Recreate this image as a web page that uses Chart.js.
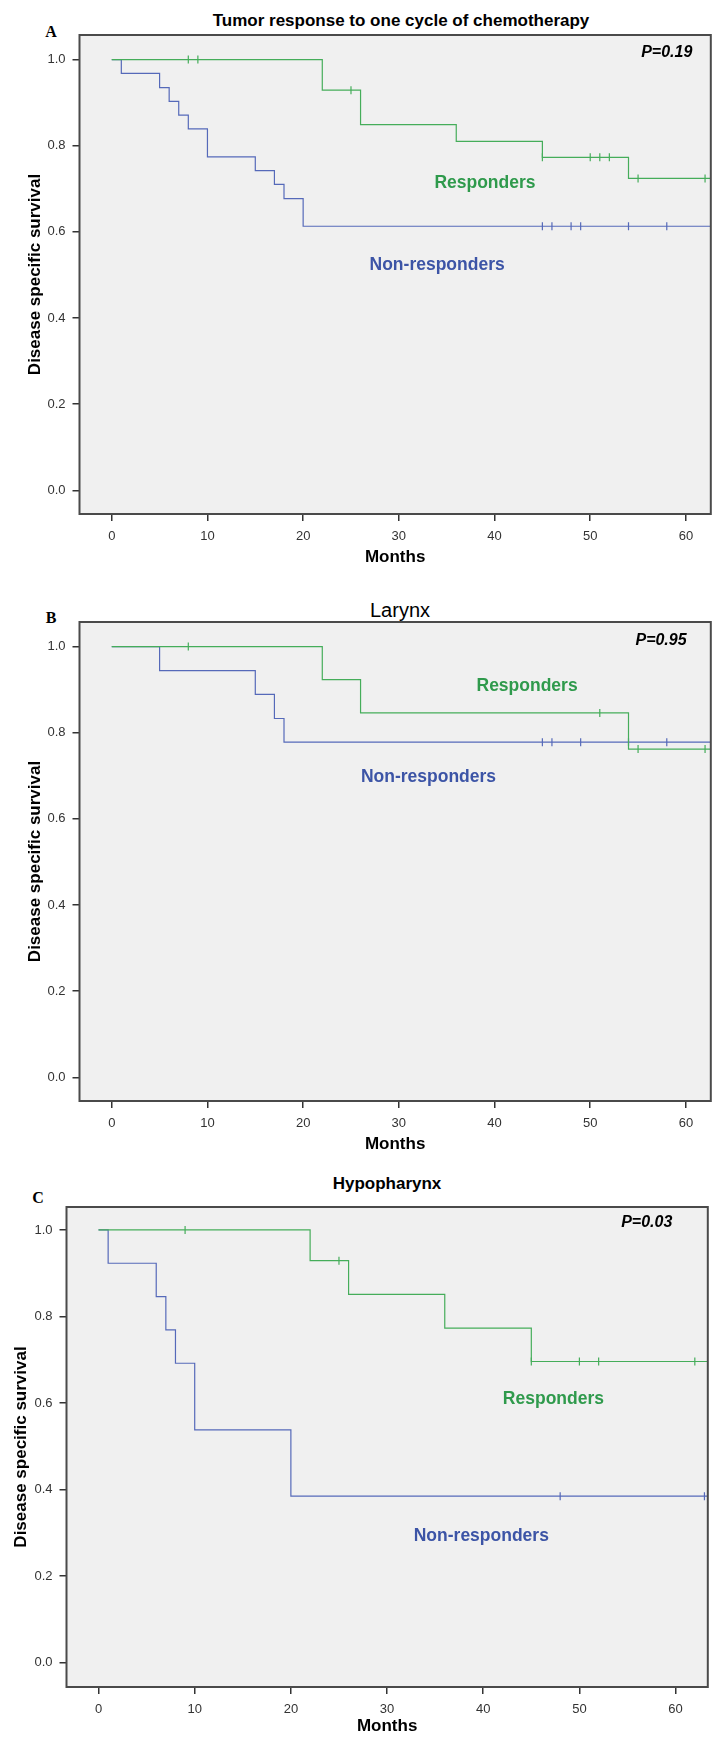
<!DOCTYPE html>
<html lang="en">
    <head>
        <script src="https://cdn.jsdelivr.net/npm/chart.js@4.4.1/dist/chart.umd.min.js"></script>
        <title>Disease specific survival</title>
        <style>
            body { margin: 0; width: 713px; height: 1738px; overflow: hidden; position: relative; background: #fff; }
            canvas { position: absolute; left: 0; }
            .txt { position: absolute; transform: translate(-50%, -50%); white-space: nowrap; line-height: 1; color: #000; }
            .ttl { font-family: 'Liberation Sans', Arial, sans-serif; }
            .let { font-family: 'Liberation Serif', 'Times New Roman', serif; font-weight: bold; font-size: 16px; }
        </style>
    </head>
    <body>
        <div class="txt ttl" style="left:401px; top:20px; font-size:17px; font-weight:bold;">Tumor response to one cycle of chemotherapy</div>
        <div class="txt let" style="left:51px; top:32px;">A</div>
        <canvas id="chartA" width="716" height="580" style="top:0px;"></canvas>

        <div class="txt ttl" style="left:400px; top:610px; font-size:20px;">Larynx</div>
        <div class="txt let" style="left:51px; top:618px;">B</div>
        <canvas id="chartB" width="716" height="580" style="top:587px;"></canvas>

        <div class="txt ttl" style="left:387px; top:1183px; font-size:17px; font-weight:bold;">Hypopharynx</div>
        <div class="txt let" style="left:38px; top:1198px;">C</div>
        <canvas id="chartC" width="713" height="566" style="top:1172px;"></canvas>

        <script>
            // axis ticks
            const monthTicks = [0, 10, 20, 30, 40, 50, 60];
            const survTicks = [0, 0.2, 0.4, 0.6, 0.8, 1.0];

            // A - all patients
            const aRespT = [0, 22, 26, 36, 45, 54, 63];
            const aRespS = [1, 0.929, 0.849, 0.810, 0.773, 0.724, 0.724];
            const aRespCensT = [8, 9, 25, 45, 50, 51, 52, 55, 62];
            const aRespCensS = [1, 1, 0.929, 0.773, 0.773, 0.773, 0.773, 0.724, 0.724];
            const aNonT = [0, 1, 5, 6, 7, 8, 10, 15, 17, 18, 20, 63];
            const aNonS = [1, 0.968, 0.935, 0.903, 0.871, 0.839, 0.774, 0.742, 0.710, 0.677, 0.613, 0.613];
            const aNonCensT = [45, 46, 48, 49, 54, 58];
            const aNonCensS = [0.613, 0.613, 0.613, 0.613, 0.613, 0.613];

            // B - larynx
            const bRespT = [0, 22, 26, 54, 63];
            const bRespS = [1, 0.923, 0.846, 0.762, 0.762];
            const bRespCensT = [8, 51, 55, 62];
            const bRespCensS = [1, 0.846, 0.762, 0.762];
            const bNonT = [0, 5, 15, 17, 18, 63];
            const bNonS = [1, 0.944, 0.889, 0.833, 0.778, 0.778];
            const bNonCensT = [45, 46, 49, 54, 58];
            const bNonCensS = [0.778, 0.778, 0.778, 0.778, 0.778];

            // C - hypopharynx
            const cRespT = [0, 22, 26, 36, 45, 64];
            const cRespS = [1, 0.929, 0.851, 0.773, 0.696, 0.696];
            const cRespCensT = [9, 25, 45, 50, 52, 62];
            const cRespCensS = [1, 0.929, 0.696, 0.696, 0.696, 0.696];
            const cNonT = [0, 1, 6, 7, 8, 10, 20, 64];
            const cNonS = [1, 0.923, 0.846, 0.769, 0.692, 0.538, 0.385, 0.385];
            const cNonCensT = [48, 63];
            const cNonCensS = [0.385, 0.385];

            const GREEN = '#45ad5a', BLUE = '#5569b9';
            const GREEN_TXT = '#2f9a4c', BLUE_TXT = '#3c54a6';
            const FONT = "'Liberation Sans', Arial, sans-serif";

            const pts = (t, s) => t.map((v, i) => ({x: v, y: s[i]}));

            function curve(t, s, color) {
                return {data: pts(t, s), showLine: true, stepped: true, borderColor: color,
                        borderWidth: 1.2, pointRadius: 0, fill: false};
            }
            function censor(t, s, color) {
                return {data: pts(t, s), showLine: false, pointStyle: 'line', rotation: 90,
                        pointRadius: 4, borderColor: color, borderWidth: 1.2, pointHoverRadius: 4};
            }

            // grey plot background + frame
            const frame = {
                id: 'frame',
                beforeDatasetsDraw(chart) {
                    const {ctx, chartArea: a} = chart;
                    ctx.save();
                    ctx.fillStyle = '#f0f0f0';
                    ctx.fillRect(a.left, a.top, a.right - a.left, a.bottom - a.top);
                    ctx.restore();
                },
                afterDraw(chart) {
                    const {ctx, chartArea: a} = chart;
                    ctx.save();
                    ctx.strokeStyle = '#4a4a4a';
                    ctx.lineWidth = 2;
                    ctx.strokeRect(a.left, a.top, a.right - a.left, a.bottom - a.top);
                    ctx.restore();
                }
            };

            // text placed at data coordinates
            const notes = {
                id: 'notes',
                afterDatasetsDraw(chart, args, opts) {
                    const {ctx, scales: {x, y}} = chart;
                    ctx.save();
                    ctx.textAlign = 'center';
                    ctx.textBaseline = 'middle';
                    opts.items.forEach(n => {
                        ctx.fillStyle = n.color;
                        ctx.font = n.font;
                        ctx.fillText(n.text, x.getPixelForValue(n.x), y.getPixelForValue(n.y));
                    });
                    ctx.restore();
                }
            };

            function makeChart(id, sets, cfg) {
                const axisGrid = {drawOnChartArea: false, drawTicks: true, tickLength: 7, color: '#333', lineWidth: 1.5};
                return new Chart(document.getElementById(id), {
                    type: 'scatter',
                    plugins: [frame, notes],
                    data: {datasets: sets},
                    options: {
                        responsive: false,
                        animation: false,
                        events: [],
                        layout: {padding: {top: 35, right: cfg.padRight, left: 0, bottom: 0}},
                        plugins: {
                            legend: {display: false},
                            tooltip: {enabled: false},
                            notes: {items: cfg.notes}
                        },
                        scales: {
                            x: {
                                type: 'linear', min: cfg.xMin, max: cfg.xMax,
                                afterBuildTicks: s => { s.ticks = monthTicks.map(v => ({value: v})); },
                                afterFit: s => { s.height = cfg.xHeight; },
                                ticks: {font: {family: FONT, size: 13}, color: '#333', padding: 8},
                                grid: axisGrid,
                                border: {display: false},
                                title: {display: true, text: 'Months', color: '#000',
                                        font: {family: FONT, size: 17, weight: 'bold'},
                                        padding: {top: 0, bottom: cfg.xTitlePad}}
                            },
                            y: {
                                type: 'linear', min: cfg.yMin, max: cfg.yMax,
                                afterBuildTicks: s => { s.ticks = survTicks.map(v => ({value: v})); },
                                afterFit: s => { s.width = cfg.yWidth; },
                                ticks: {font: {family: FONT, size: 13}, color: '#333', padding: 7,
                                        callback: v => v.toFixed(1)},
                                grid: axisGrid,
                                border: {display: false},
                                title: {display: true, text: 'Disease specific survival', color: '#000',
                                        font: {family: FONT, size: 17, weight: 'bold'},
                                        padding: {top: cfg.yTitlePad, bottom: 0}}
                            }
                        }
                    }
                });
            }

            const labelFont = "bold 17.5px " + FONT;
            const pFont = "italic bold 16px " + FONT;

            makeChart('chartA', [
                curve(aRespT, aRespS, GREEN), censor(aRespCensT, aRespCensS, GREEN),
                curve(aNonT, aNonS, BLUE), censor(aNonCensT, aNonCensS, BLUE)
            ], {
                xMin: -3.37, xMax: 62.6, yMin: -0.055, yMax: 1.057,
                xHeight: 66, yWidth: 79.5, padRight: 1, xTitlePad: 12, yTitlePad: 25,
                notes: [
                    {text: 'P=0.19', x: 58.0, y: 1.016, color: '#000', font: pFont},
                    {text: 'Responders', x: 39.0, y: 0.713, color: GREEN_TXT, font: labelFont},
                    {text: 'Non-responders', x: 34.0, y: 0.523, color: BLUE_TXT, font: labelFont}
                ]
            });

            makeChart('chartB', [
                curve(bRespT, bRespS, GREEN), censor(bRespCensT, bRespCensS, GREEN),
                curve(bNonT, bNonS, BLUE), censor(bNonCensT, bNonCensS, BLUE)
            ], {
                xMin: -3.37, xMax: 62.6, yMin: -0.055, yMax: 1.057,
                xHeight: 66, yWidth: 79.5, padRight: 1, xTitlePad: 12, yTitlePad: 25,
                notes: [
                    {text: 'P=0.95', x: 57.4, y: 1.014, color: '#000', font: pFont},
                    {text: 'Responders', x: 43.4, y: 0.909, color: GREEN_TXT, font: labelFont},
                    {text: 'Non-responders', x: 33.1, y: 0.696, color: BLUE_TXT, font: labelFont}
                ]
            });

            makeChart('chartC', [
                curve(cRespT, cRespS, GREEN), censor(cRespCensT, cRespCensS, GREEN),
                curve(cNonT, cNonS, BLUE), censor(cNonCensT, cNonCensS, BLUE)
            ], {
                xMin: -3.33, xMax: 63.35, yMin: -0.056, yMax: 1.053,
                xHeight: 51, yWidth: 66.5, padRight: 3, xTitlePad: 1, yTitlePad: 11,
                notes: [
                    {text: 'P=0.03', x: 57.0, y: 1.018, color: '#000', font: pFont},
                    {text: 'Responders', x: 47.3, y: 0.609, color: GREEN_TXT, font: labelFont},
                    {text: 'Non-responders', x: 39.8, y: 0.293, color: BLUE_TXT, font: labelFont}
                ]
            });
        </script>
    </body>
</html>
